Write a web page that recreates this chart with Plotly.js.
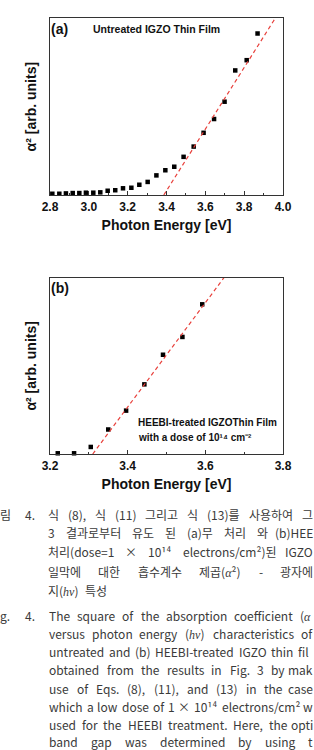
<!DOCTYPE html>
<html>
<head>
<meta charset="utf-8">
<script src="https://cdn.plot.ly/plotly-3.0.1.min.js"></script>
<style>
  html, body { margin: 0; padding: 0; background: #fff; }
  #chart { width: 314px; height: 750px; }
</style>
</head>
<body>
<div id="chart"></div>
<script>
// ---- Data: panel (a) untreated IGZO ----
const aEnergy = [2.812, 2.848, 2.882, 2.917, 2.951, 2.985, 3.023, 3.059, 3.097, 3.136, 3.176, 3.219, 3.260,
                 3.303, 3.348, 3.394, 3.440, 3.488, 3.540, 3.591, 3.645, 3.699, 3.754, 3.813, 3.869];
const aAlpha2 = [0.7, 0.7, 0.9, 1.1, 1.1, 1.3, 1.3, 1.5, 2.4, 2.7, 3.8, 4.1, 5.8,
                 7.4, 11.1, 14.0, 16.0, 21.6, 27.4, 35.2, 43.0, 52.8, 70.5, 76.3, 91.4];
const aFitEnergy = [3.386, 3.960];
const aFitAlpha2 = [0, 100];

// ---- Data: panel (b) HEEBI-treated IGZO ----
const bEnergy = [3.220, 3.262, 3.305, 3.350, 3.396, 3.443, 3.491, 3.541, 3.592];
const bAlpha2 = [0.4, 0.4, 4.0, 13.9, 24.6, 39.5, 56.3, 66.4, 84.9];
const bFitEnergy = [3.310, 3.648];
const bFitAlpha2 = [0, 100];

// ---- Tick labels ----
const aTicks = [2.8, 3.0, 3.2, 3.4, 3.6, 3.8, 4.0];
const bTicks = [3.2, 3.4, 3.6, 3.8];

// ---- Text ----
const xTitle = 'Photon Energy [eV]';
const yTitle = 'α² [arb. units]';
const aLabel = '(a)';
const aNote = 'Untreated IGZO Thin Film';
const bLabel = '(b)';
const bNote1 = 'HEEBI-treated IGZOThin Film';
const bNote2 = 'with a dose of 10¹⁴ cm⁻²';

const M = s => '<span style="font-family:\'Liberation Serif\'"><i>' + s + '</i></span>';
// caption lines (as visible in the cropped figure): [words, y, firstX, lastWordX (null = not justified)]
const captionKo = [
  [['식', '(8),', '식', '(11)', '그리고', '식', '(13)를', '사용하여', '그'], 514, 48, 302],
  [['3', '결과로부터', '유도', '된', '(a)무', '처리', '와', '(b)HEE'], 532.5, 48, 279],
  [['처리(dose=1', '×', '10¹⁴', 'electrons/cm²)된', 'IGZO'], 551, 48, 287],
  [['일막에', '대한', '흡수계수', '제곱(' + M('α') + '²)', '-', '광자에'], 571, 48, 280],
  [['지(' + M('hν') + ')', '특성'], 590.5, 48, null]
];
const captionEn = [
  [['The', 'square', 'of', 'the', 'absorption', 'coefficient', '(' + M('α')], 615, 49, 300],
  [['versus', 'photon', 'energy', '(' + M('hν') + ')', 'characteristics', 'of'], 633.3, 49, 301],
  [['untreated', 'and', '(b)', 'HEEBI-treated', 'IGZO', 'thin', 'fil'], 651.6, 49, 298],
  [['obtained', 'from', 'the', 'results', 'in', 'Fig.', '3', 'by', 'mak'], 669.9, 49, 292],
  [['use', 'of', 'Eqs.', '(8),', '(11),', 'and', '(13)', 'in', 'the', 'case'], 688.2, 49, 291],
  [['which', 'a', 'low', 'dose', 'of', '1', '×', '10¹⁴', 'electrons/cm²', 'w'], 706.5, 49, 304],
  [['used', 'for', 'the', 'HEEBI', 'treatment.', 'Here,', 'the', 'opti'], 724.8, 49, 293],
  [['band', 'gap', 'was', 'determined', 'by', 'using', 't'], 741.5, 49, 308]
];
const captionLabels = [
  ['림', 514, 0, 'left'], ['4.', 514, 25, 'left'],
  ['g.', 615, 0, 'left'], ['4.', 615, 25, 'left']
];

// ---- Layout helpers ----
const W = 314, H = 750;
const px = x => x / W;
const py = y => 1 - y / H;
const BLACK = '#000';
const RED = '#e8413c';
const boldFont = (size) => ({ family: 'Liberation Sans, Arial, sans-serif', size: size, color: '#111', weight: 'bold' });
const capFamily = 'Noto Sans CJK KR, sans-serif';
const capSize = 12;
const capColor = '#3a3a3a';

const ctx = document.createElement('canvas').getContext('2d');
function measure(html, size) {
  ctx.font = size + 'px "Noto Sans CJK KR"';
  return ctx.measureText(html.replace(/<[^>]+>/g, '')).width;
}

const annotations = [];
function addText(text, x, y, anchor, font) {
  annotations.push({
    text: text, xref: 'paper', yref: 'paper', x: px(x), y: py(y),
    xanchor: anchor, yanchor: 'middle', showarrow: false,
    borderpad: 0, borderwidth: 0, font: font
  });
}
function addLine(words, y, x0, xLast) {
  const capFont = { family: capFamily, size: capSize, color: capColor };
  const widths = words.map(w => measure(w, capSize));
  let gap = measure(' ', capSize) * 1.6;
  if (xLast !== null && words.length > 1) {
    let sum = 0;
    for (let i = 0; i < words.length - 1; i++) sum += widths[i];
    gap = (xLast - x0 - sum) / (words.length - 1);
  }
  let x = x0;
  words.forEach((w, i) => {
    const isLast = (i === words.length - 1);
    // keep the final (cropped) word inside the page
    if (isLast && xLast !== null && x + widths[i] > W - 1) {
      addText(w, W - 1, y, 'right', capFont);
    } else {
      addText(w, x, y, 'left', capFont);
    }
    x += widths[i] + gap;
  });
}
captionKo.forEach(l => addLine(l[0], l[1], l[2], l[3]));
captionEn.forEach(l => addLine(l[0], l[1], l[2], l[3]));
captionLabels.forEach(l => addText(l[0], l[2], l[1], l[3], { family: capFamily, size: capSize, color: capColor }));

// panel labels
addText(aLabel, 51, 29, 'left', boldFont(14));
addText(aNote, 220, 29, 'right', boldFont(10.5));
addText(bLabel, 51, 288, 'left', boldFont(14));
addText(bNote1, 138, 422.7, 'left', boldFont(10));
addText(bNote2, 138, 437, 'left', boldFont(10));

const traces = [
  { x: aEnergy, y: aAlpha2, xaxis: 'x', yaxis: 'y', mode: 'markers', type: 'scatter',
    marker: { symbol: 'square', size: 4.5, color: BLACK }, cliponaxis: false, showlegend: false },
  { x: aFitEnergy, y: aFitAlpha2, xaxis: 'x', yaxis: 'y', mode: 'lines', type: 'scatter',
    line: { color: RED, width: 1.2, dash: '4px,3px' }, showlegend: false },
  { x: bEnergy, y: bAlpha2, xaxis: 'x2', yaxis: 'y2', mode: 'markers', type: 'scatter',
    marker: { symbol: 'square', size: 4.5, color: BLACK }, cliponaxis: false, showlegend: false },
  { x: bFitEnergy, y: bFitAlpha2, xaxis: 'x2', yaxis: 'y2', mode: 'lines', type: 'scatter',
    line: { color: RED, width: 1.2, dash: '4px,3px' }, showlegend: false }
];

const xCommon = {
  showline: true, mirror: true, linecolor: '#333', linewidth: 1.2,
  showgrid: false, zeroline: false,
  ticks: 'inside', ticklen: 4, tickwidth: 1, tickcolor: '#333',
  minor: { ticks: 'inside', ticklen: 2, tickwidth: 1, tickcolor: '#333', dtick: 0.1, showgrid: false },
  tickfont: boldFont(12), tickformat: '.1f',
  title: { text: xTitle, font: boldFont(14), standoff: 7 }
};
const yCommon = {
  showline: true, mirror: true, linecolor: '#333', linewidth: 1.2,
  showgrid: false, zeroline: false, showticklabels: false, ticks: '',
  range: [0, 100], fixedrange: true,
  title: { text: yTitle, font: boldFont(14), standoff: 8 }
};

const layout = {
  width: W, height: H,
  margin: { l: 0, r: 0, t: 0, b: 0 },
  paper_bgcolor: '#fff', plot_bgcolor: '#fff',
  showlegend: false,
  xaxis: Object.assign({}, xCommon, { domain: [px(50), px(283)], range: [2.8, 4.0], anchor: 'y',
    tickmode: 'array', tickvals: aTicks, ticktext: aTicks.map(v => v.toFixed(1)) }),
  yaxis: Object.assign({}, yCommon, { domain: [py(195), py(18.3)], anchor: 'x' }),
  xaxis2: Object.assign({}, xCommon, { domain: [px(50), px(283)], range: [3.2, 3.8], anchor: 'y2',
    tickmode: 'array', tickvals: bTicks, ticktext: bTicks.map(v => v.toFixed(1)) }),
  yaxis2: Object.assign({}, yCommon, { domain: [py(454), py(277.7)], anchor: 'x2' }),
  annotations: annotations
};

Plotly.newPlot('chart', traces, layout, { staticPlot: true, displayModeBar: false });
</script>
</body>
</html>
